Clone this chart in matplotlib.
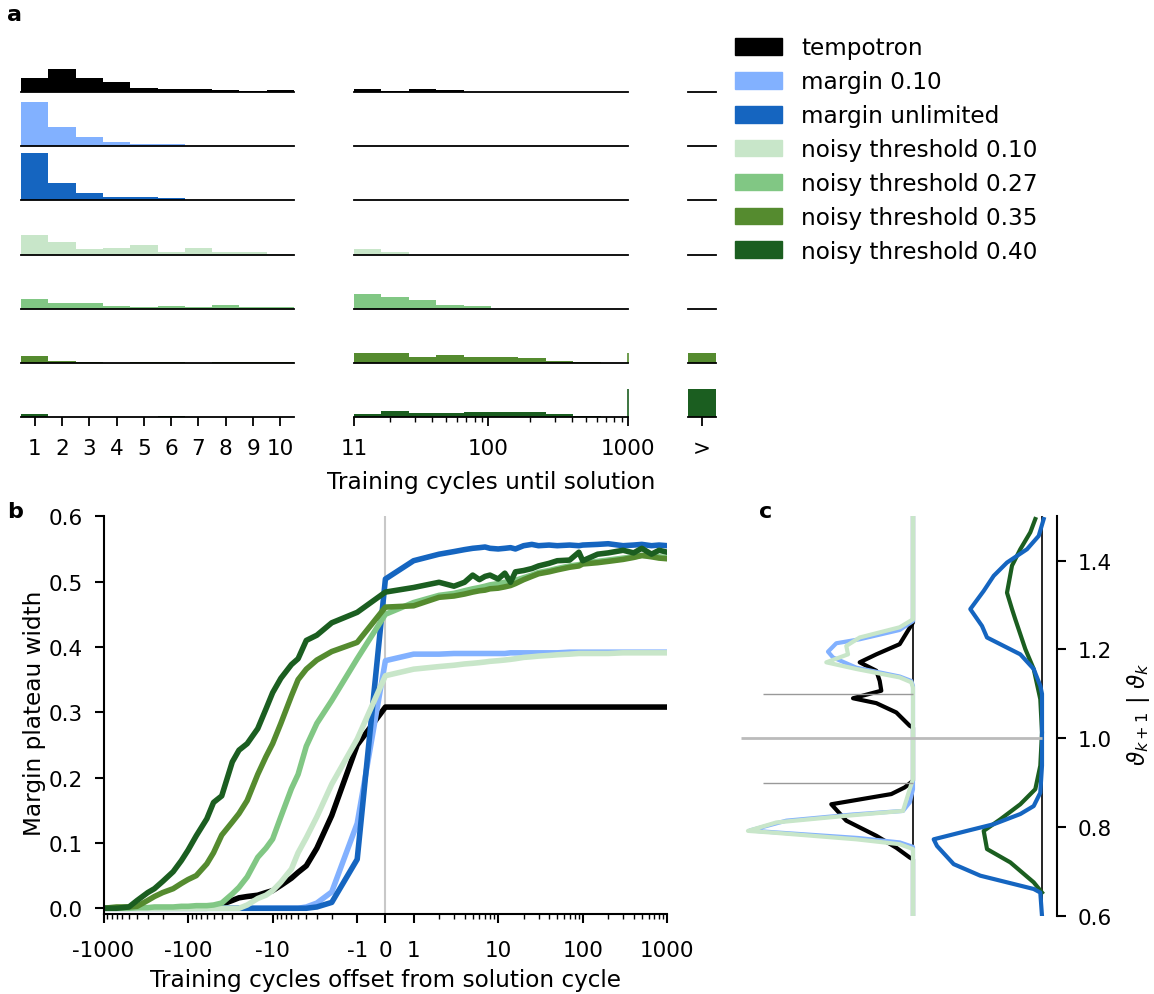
import numpy as np
import matplotlib
matplotlib.use("Agg")
from matplotlib import pyplot as plt
from matplotlib.patches import Patch
from matplotlib.ticker import FixedLocator, NullFormatter, NullLocator

W, H = 1154, 995

names = ["tempotron", "margin 0.10", "margin unlimited", "noisy threshold 0.10",
         "noisy threshold 0.27", "noisy threshold 0.35", "noisy threshold 0.40"]
colors = ["#000000", "#82b1ff", "#1565c0", "#c8e6c9", "#81c784", "#558b2f", "#1b5e20"]

# fraction of runs solved after 1..10 cycles
hist_short = [
    [0.173, 0.287, 0.173, 0.123, 0.047, 0.034, 0.034, 0.022, 0.006, 0.022],
    [0.553, 0.237, 0.110, 0.047, 0.022, 0.022, 0, 0, 0, 0],
    [0.595, 0.215, 0.089, 0.038, 0.038, 0.025, 0, 0, 0, 0],
    [0.244, 0.156, 0.067, 0.080, 0.118, 0.029, 0.080, 0.029, 0.029, 0.009],
    [0.127, 0.076, 0.076, 0.038, 0.025, 0.038, 0.025, 0.051, 0.025, 0.025],
    [0.089, 0.025, 0.013, 0.006, 0.013, 0.013, 0.006, 0.013, 0.013, 0.013],
    [0.042, 0.006, 0.006, 0.006, 0.006, 0.016, 0.006, 0.006, 0.006, 0.006],
]
# fraction solved in log-spaced bins between 11 and 1000 cycles
hist_long = [
    [0.034, 0.013, 0.034, 0.016, 0, 0, 0, 0, 0, 0],
    [0, 0, 0, 0, 0, 0, 0, 0, 0, 0],
    [0, 0, 0, 0, 0, 0, 0, 0, 0, 0],
    [0.067, 0.029, 0, 0, 0, 0, 0, 0, 0, 0],
    [0.181, 0.143, 0.105, 0.054, 0.029, 0, 0, 0, 0, 0],
    [0.127, 0.127, 0.076, 0.101, 0.076, 0.076, 0.063, 0.025, 0.017, 0.004],
    [0.038, 0.080, 0.055, 0.055, 0.068, 0.068, 0.068, 0.038, 0.017, 0.008],
]
# fraction not solved within 1000 cycles
hist_over = [0, 0, 0, 0, 0, 0.127, 0.354]
long_edges = np.logspace(np.log10(11), 3, 11)

# margin plateau width around the solution cycle
offsets = [-1000, -700, -500, -400, -300, -250, -200, -150, -120, -100, -80, -60, -50,
           -40, -30, -25, -20, -15, -12, -10, -8, -6, -5, -4, -3, -2, -1,
           0,
           1, 2, 3, 4, 5, 6, 7, 8, 10, 12, 14, 16, 20, 25, 30, 40, 50, 70, 90,
           100, 150, 200, 300, 400, 500, 650, 800, 1000]
plateau = [
    # tempotron
    [0] * 12 + [0.001, 0.006, 0.012, 0.016, 0.018, 0.020, 0.024, 0.027, 0.035, 0.046,
                0.055, 0.065, 0.092, 0.142, 0.250]
    + [0.308] + [0.308] * 28,
    # margin 0.10
    [0] * 22 + [0.0, 0.002, 0.008, 0.025, 0.130]
    + [0.379]
    + [0.389, 0.389, 0.390, 0.390, 0.390, 0.390, 0.390, 0.390, 0.390, 0.390, 0.391, 0.391,
       0.391, 0.391, 0.391, 0.391, 0.391, 0.392, 0.392, 0.392, 0.392, 0.392, 0.392, 0.392,
       0.392, 0.392, 0.392, 0.392],
    # margin unlimited
    [0] * 22 + [0.0, 0.0, 0.002, 0.009, 0.075]
    + [0.504]
    + [0.532, 0.542, 0.546, 0.549, 0.551, 0.552, 0.553, 0.551, 0.550, 0.551, 0.552, 0.550,
       0.555, 0.557, 0.555, 0.556, 0.555, 0.556, 0.555, 0.556, 0.557, 0.558, 0.555, 0.556,
       0.557, 0.555, 0.556, 0.555],
    # noisy threshold 0.10
    [0] * 16 + [0.005, 0.015, 0.020, 0.027, 0.040, 0.060, 0.085, 0.108, 0.140, 0.190, 0.259]
    + [0.356]
    + [0.366, 0.370, 0.372, 0.374, 0.375, 0.376, 0.377, 0.378, 0.379, 0.380, 0.381, 0.382,
       0.384, 0.385, 0.386, 0.387, 0.388, 0.389, 0.390, 0.390, 0.390, 0.390, 0.391, 0.391,
       0.391, 0.391, 0.391, 0.391],
    # noisy threshold 0.27
    [0, 0, 0, 0.001, 0.001, 0.002, 0.002, 0.002, 0.003, 0.003, 0.004, 0.004, 0.005, 0.008,
     0.022, 0.032, 0.048, 0.078, 0.092, 0.106, 0.140, 0.183, 0.205, 0.248, 0.283, 0.318, 0.382]
    + [0.450]
    + [0.468, 0.479, 0.482, 0.486, 0.489, 0.491, 0.493, 0.495, 0.497, 0.499, 0.500, 0.502,
       0.506, 0.510, 0.514, 0.517, 0.520, 0.524, 0.526, 0.528, 0.531, 0.533, 0.536, 0.538,
       0.540, 0.540, 0.538, 0.537],
    # noisy threshold 0.35
    [0, 0.002, 0.002, 0.003, 0.012, 0.018, 0.024, 0.030, 0.038, 0.044, 0.050, 0.068, 0.085,
     0.112, 0.132, 0.145, 0.165, 0.205, 0.232, 0.252, 0.283, 0.325, 0.350, 0.366, 0.380,
     0.393, 0.407]
    + [0.461]
    + [0.463, 0.476, 0.478, 0.481, 0.484, 0.486, 0.487, 0.489, 0.490, 0.492, 0.494, 0.497,
       0.503, 0.508, 0.512, 0.515, 0.518, 0.522, 0.524, 0.527, 0.529, 0.531, 0.534, 0.537,
       0.540, 0.538, 0.536, 0.535],
    # noisy threshold 0.40
    [0, 0, 0.002, 0.012, 0.024, 0.030, 0.041, 0.056, 0.073, 0.089, 0.111, 0.137, 0.162,
     0.172, 0.224, 0.242, 0.252, 0.275, 0.305, 0.330, 0.352, 0.373, 0.382, 0.410, 0.418,
     0.437, 0.453]
    + [0.484]
    + [0.491, 0.499, 0.493, 0.499, 0.510, 0.503, 0.508, 0.510, 0.504, 0.513, 0.499, 0.515,
       0.517, 0.520, 0.524, 0.528, 0.532, 0.533, 0.545, 0.532, 0.542, 0.544, 0.548, 0.544,
       0.551, 0.542, 0.548, 0.545],
]

# density of theta_{k+1} given theta_k, two groups of models
tempo_theta = [0.60, 0.727, 0.731, 0.753, 0.780, 0.814, 0.851, 0.874, 0.889, 0.904, 1.024,
               1.028, 1.058, 1.079, 1.090, 1.107, 1.129, 1.152, 1.171, 1.189, 1.212, 1.261, 1.50]
tempo_dens = [0, 0, 0.033, 0.167, 0.367, 0.667, 0.817, 0.217, 0.083, 0, 0,
              0.033, 0.167, 0.367, 0.60, 0.317, 0.333, 0.367, 0.533, 0.367, 0.133, 0, 0]
m010_theta = [0.60, 0.755, 0.765, 0.775, 0.788, 0.792, 0.814, 0.828, 0.836, 0.855, 0.885,
              1.118, 1.129, 1.139, 1.159, 1.182, 1.195, 1.214, 1.223, 1.244, 1.264, 1.50]
m010_dens = [0, 0, 0.133, 0.55, 1.40, 1.63, 1.267, 0.60, 0.10, 0.033, 0,
             0, 0.017, 0.133, 0.567, 0.80, 0.85, 0.767, 0.533, 0.133, 0, 0]
nt010_theta = [0.60, 0.750, 0.761, 0.772, 0.787, 0.791, 0.810, 0.825, 0.836, 0.885, 0.908,
               1.114, 1.126, 1.137, 1.156, 1.171, 1.189, 1.208, 1.227, 1.250, 1.268, 1.50]
nt010_dens = [0, 0, 0.133, 0.567, 1.40, 1.65, 1.367, 0.667, 0.10, 0.033, 0,
              0, 0.017, 0.133, 0.567, 0.867, 0.65, 0.667, 0.533, 0.133, 0, 0]
munl_theta = [0.599, 0.652, 0.660, 0.690, 0.716, 0.757, 0.772, 0.791, 0.806, 0.829, 0.847,
              0.877, 0.938, 1.100, 1.118, 1.156, 1.189, 1.227, 1.253, 1.291, 1.332, 1.366,
              1.396, 1.426, 1.456, 1.494]
munl_dens = [0, 0.017, 0.083, 0.617, 0.883, 1.05, 1.083, 0.75, 0.483, 0.217, 0.083,
             0.017, 0, 0, 0.017, 0.083, 0.217, 0.55, 0.60, 0.717, 0.583, 0.483,
             0.35, 0.15, 0.033, -0.017]
nt040_theta = [0.652, 0.675, 0.720, 0.750, 0.791, 0.817, 0.851, 0.885, 0.938, 1.013, 1.088,
               1.156, 1.201, 1.268, 1.291, 1.328, 1.389, 1.426, 1.464, 1.494]
nt040_dens = [0, 0.083, 0.317, 0.55, 0.583, 0.417, 0.217, 0.067, 0.017, 0, 0.017,
              0.083, 0.167, 0.267, 0.30, 0.35, 0.30, 0.217, 0.117, 0.067]

plt.rcParams['font.family'] = ['DejaVu Sans']
TICK_FS = 15.5
LABEL_FS = 16.7

fig = plt.figure(figsize=(W / 100, H / 100), dpi=100)


def px_axes(left, top, width, height):
    return fig.add_axes([left / W, 1 - (top + height) / H, width / W, height / H])


# ---- panel a: histograms of cycles until solution ----
ROW_H = 50
PX_PER_UNIT = 79.0
for i in range(7):
    base = 92.7 + i * 54.27
    a1 = px_axes(21, base - ROW_H, 273, ROW_H)
    a1.bar(np.arange(1, 11), hist_short[i], width=1.0, color=colors[i], linewidth=0)
    a1.set_xlim(0.5, 10.5)

    a2 = px_axes(354, base - ROW_H, 274, ROW_H)
    a2.set_xscale('log')
    a2.bar(long_edges[:-1], hist_long[i], width=np.diff(long_edges), align='edge',
           color=colors[i], linewidth=0)
    if hist_over[i] > 0:
        a2.vlines(1000, 0, hist_over[i], color=colors[i], lw=1.2, clip_on=False)
    a2.set_xlim(11, 1000)

    a3 = px_axes(688, base - ROW_H, 28, ROW_H)
    a3.bar([0.5], [hist_over[i]], width=1.0, color=colors[i], linewidth=0)
    a3.set_xlim(0, 1)

    for ax in (a1, a2, a3):
        ax.set_ylim(0, ROW_H / PX_PER_UNIT)
        for s in ('top', 'left', 'right'):
            ax.spines[s].set_visible(False)
        ax.spines['bottom'].set_linewidth(1.3)
        ax.yaxis.set_major_locator(NullLocator())
        ax.tick_params(axis='x', which='major', length=6.5, width=1.3,
                       labelsize=TICK_FS, pad=8.6)
        ax.tick_params(axis='x', which='minor', length=3.5, width=1.0)
        if i < 6:
            ax.xaxis.set_major_locator(NullLocator())
            ax.xaxis.set_minor_locator(NullLocator())

    if i == 6:
        a1.set_xticks(range(1, 11))
        a2.xaxis.set_major_locator(FixedLocator([11, 100, 1000]))
        a2.set_xticklabels(["11", "100", "1000"])
        a2.xaxis.set_minor_formatter(NullFormatter())
        a3.set_xticks([0.5])
        a3.set_xticklabels([">"])

fig.text(491 / W, 1 - 483 / H, "Training cycles until solution", fontsize=LABEL_FS,
         ha='center', va='center')

fig.legend(handles=[Patch(color=c, label=n) for c, n in zip(colors, names)],
           loc='upper left', bbox_to_anchor=(735 / W, 1 - 37.5 / H), frameon=False,
           fontsize=LABEL_FS, handlelength=2.03, handleheight=0.73,
           handletextpad=0.82, labelspacing=0.47, borderpad=0, borderaxespad=0)

# ---- panel b: margin plateau width ----
axb = px_axes(103.5, 517.3, 563.8, 397.2)
axb.axvline(0, color='#c8c8c8', lw=1.5, zorder=0)
for vals, c in zip(plateau, colors):
    axb.plot(offsets, vals, color=c, lw=4, solid_joinstyle='round')
axb.set_xscale('symlog', linthresh=1, linscale=0.3)
axb.set_xlim(-1000, 1000)
axb.set_ylim(-0.008, 0.6)
major = [-1000, -100, -10, -1, 0, 1, 10, 100, 1000]
axb.xaxis.set_major_locator(FixedLocator(major))
axb.set_xticklabels([str(m) for m in major])
minor = [s * m * 10 ** k for s in (-1, 1) for k in range(3) for m in range(2, 10)]
axb.xaxis.set_minor_locator(FixedLocator(minor))
axb.xaxis.set_minor_formatter(NullFormatter())
axb.set_yticks([0, 0.1, 0.2, 0.3, 0.4, 0.5, 0.6])
axb.set_yticklabels(["0.0", "0.1", "0.2", "0.3", "0.4", "0.5", "0.6"])
for s in ('top', 'right'):
    axb.spines[s].set_visible(False)
for s in ('left', 'bottom'):
    axb.spines[s].set_linewidth(1.5)
axb.tick_params(which='major', length=6.5, width=1.5, labelsize=TICK_FS)
axb.tick_params(axis='x', which='major', pad=12.8)
axb.tick_params(axis='y', which='major', pad=8.7)
axb.tick_params(which='minor', length=3.5, width=1.0)
fig.text(386 / W, 1 - 981 / H, "Training cycles offset from solution cycle",
         fontsize=LABEL_FS, ha='center', va='center')
fig.text(35 / W, 1 - 713 / H, "Margin plateau width", fontsize=LABEL_FS,
         ha='center', va='center', rotation=90)

# ---- panel c: distributions of threshold ratio ----
axc = px_axes(735, 517.4, 322, 399.2)
axc.set_xlim(0, 3.22)
axc.set_ylim(0.6, 1.5)
base1, base2 = 1.78, 3.07
axc.axvline(base1, color='black', lw=1.2)
axc.axvline(base2, color='black', lw=1.2)
axc.plot(base1 - np.array(tempo_dens), tempo_theta, color=colors[0], lw=3)
axc.plot(base1 - np.array(m010_dens), m010_theta, color=colors[1], lw=3)
axc.plot(base1 - np.array(nt010_dens), nt010_theta, color=colors[3], lw=3)
axc.plot(base2 - np.array(nt040_dens), nt040_theta, color=colors[6], lw=3)
axc.plot(base2 - np.array(munl_dens), munl_theta, color=colors[2], lw=3)
axc.hlines([0.9, 1.1], 0.28, base1, color='#999999', lw=1.0, zorder=3)
axc.hlines(1.0, 0.06, base2, color='#bbbbbb', lw=2.0, zorder=3)
for s in ('top', 'left', 'bottom'):
    axc.spines[s].set_visible(False)
axc.spines['right'].set_linewidth(1.5)
axc.xaxis.set_major_locator(NullLocator())
axc.yaxis.tick_right()
axc.set_yticks([0.6, 0.8, 1.0, 1.2, 1.4])
axc.set_yticklabels(["0.6", "0.8", "1.0", "1.2", "1.4"])
axc.tick_params(axis='y', length=6.7, width=1.5, labelsize=TICK_FS, pad=8)
fig.text(1139 / W, 1 - 714 / H, r"$\vartheta_{k+1}\ |\ \vartheta_k$", fontsize=LABEL_FS,
         ha='center', va='center', rotation=90)

# panel letters
for letter, x, y in (("a", 15, 15), ("b", 15, 512), ("c", 766, 512)):
    fig.text(x / W, 1 - y / H, letter, fontsize=16, fontweight='bold',
             ha='center', va='center')

fig.savefig("out.png", dpi=100)
